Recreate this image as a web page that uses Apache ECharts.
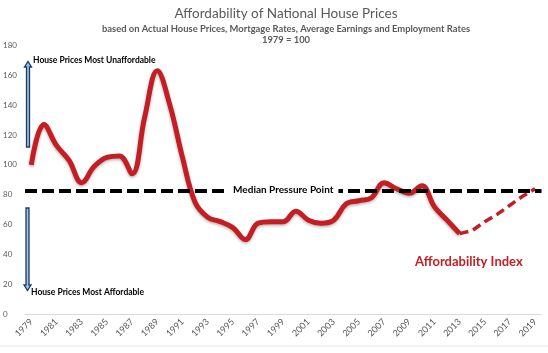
<!DOCTYPE html>
<html>
<head>
<meta charset="utf-8">
<script src="https://cdn.jsdelivr.net/npm/echarts@6/dist/echarts.min.js"></script>
<style>
html, body { margin: 0; padding: 0; background: #fff; }
#chart { width: 548px; height: 353px; }
</style>
</head>
<body>
<div id="chart"></div>
<script>
var years = [];
for (var y = 1979; y <= 2019; y++) years.push(String(y));

// affordability index 1979-2013 (actual)
var actual = [100, 127, 113, 103, 88, 99, 105, 106, 94, 132,
              163, 140, 105, 75, 65, 62, 58, 50, 61, 62,
              62, 69, 63, 61, 63, 74, 76, 78, 88, 84,
              81, 86, 72, 63, 54];
// projection 2013-2019
var projection = [54, 56, 62, 67, 73, 79, 84];
var medianValue = 83;

var solidData = actual.slice();
while (solidData.length < years.length) solidData.push(null);
var dashData = [];
for (var i = 0; i < years.length - projection.length; i++) dashData.push(null);
dashData = dashData.concat(projection);

var red = '#c41e24';
var font = 'Lato';

var chart = echarts.init(document.getElementById('chart'));
chart.setOption({
    animation: false,
    textStyle: { fontFamily: font },
    title: {
        text: 'Affordability of National House Prices',
        subtext: 'based on Actual House Prices, Mortgage Rates, Average Earnings and Employment Rates\n1979 = 100',
        left: 281,
        textAlign: 'center',
        top: 2,
        itemGap: 2,
        textStyle: { fontFamily: font, fontSize: 13.5, fontWeight: 'normal', color: '#595959' },
        subtextStyle: { fontFamily: font, fontSize: 9.4, fontWeight: 'bold', color: '#595959', lineHeight: 11, align: 'center' }
    },
    grid: { left: 23.5, right: 6.5, top: 45.3, bottom: 38.7, containLabel: false },
    xAxis: {
        type: 'category',
        data: years,
        boundaryGap: true,
        axisLine: { lineStyle: { color: '#d9d9d9' } },
        axisTick: { show: false },
        axisLabel: { interval: 1, rotate: 45, fontSize: 9, color: '#595959', margin: 6 }
    },
    yAxis: {
        type: 'value',
        min: 0, max: 180, interval: 20,
        splitLine: { show: false },
        axisLine: { show: false },
        axisTick: { show: false },
        axisLabel: { fontSize: 8, color: '#595959', margin: 8, align: 'left', padding: [0, 0, 0, -14] }
    },
    series: [{
        type: 'line',
        data: solidData,
        smooth: 0.4,
        symbol: 'none',
        lineStyle: { color: red, width: 5, shadowColor: 'rgba(0,0,0,0.3)', shadowBlur: 3, shadowOffsetY: 1.5 },
        markLine: {
            silent: true,
            symbol: 'none',
            lineStyle: { color: '#000', width: 4, type: [12, 5] },
            label: {
                position: 'middle',
                formatter: 'Median Pressure Point',
                distance: 0,
                verticalAlign: 'middle',
                backgroundColor: '#fff',
                padding: [1, 5],
                color: '#000',
                fontFamily: font,
                fontWeight: 'bold',
                fontSize: 10
            },
            data: [{ yAxis: medianValue }]
        },
        z: 3
    }, {
        type: 'line',
        data: dashData,
        symbol: 'none',
        lineStyle: { color: red, width: 3.5, type: [9, 5] },
        z: 3
    }],
    graphic: [
        { type: 'polygon', shape: { points: [[26.5, 147], [26.5, 67], [24.5, 67], [28, 61.5], [31.5, 67], [29.5, 67], [29.5, 147]] },
          style: { fill: '#9dc3e6', stroke: '#1f3864', lineWidth: 1.3 } },
        { type: 'polygon', shape: { points: [[26, 208], [26, 285], [24, 285], [27.5, 290.5], [31, 285], [29, 285], [29, 208]] },
          style: { fill: '#9dc3e6', stroke: '#1f3864', lineWidth: 1.3 } },
        { type: 'text', left: 33, top: 56, style: { text: 'House Prices Most Unaffordable', fontFamily: font, fontSize: 8.5, fontWeight: 'bold', fill: '#000' } },
        { type: 'text', left: 31, top: 288, style: { text: 'House Prices Most Affordable', fontFamily: font, fontSize: 8.5, fontWeight: 'bold', fill: '#000' } },
        { type: 'text', left: 415, top: 255, style: { text: 'Affordability Index', fontFamily: font, fontSize: 13, fontWeight: 'bold', fill: red } },
        { type: 'line', shape: { x1: 0, y1: 346, x2: 548, y2: 346 }, style: { stroke: '#e6e6e6', lineWidth: 1 } }
    ]
});
</script>
</body>
</html>
